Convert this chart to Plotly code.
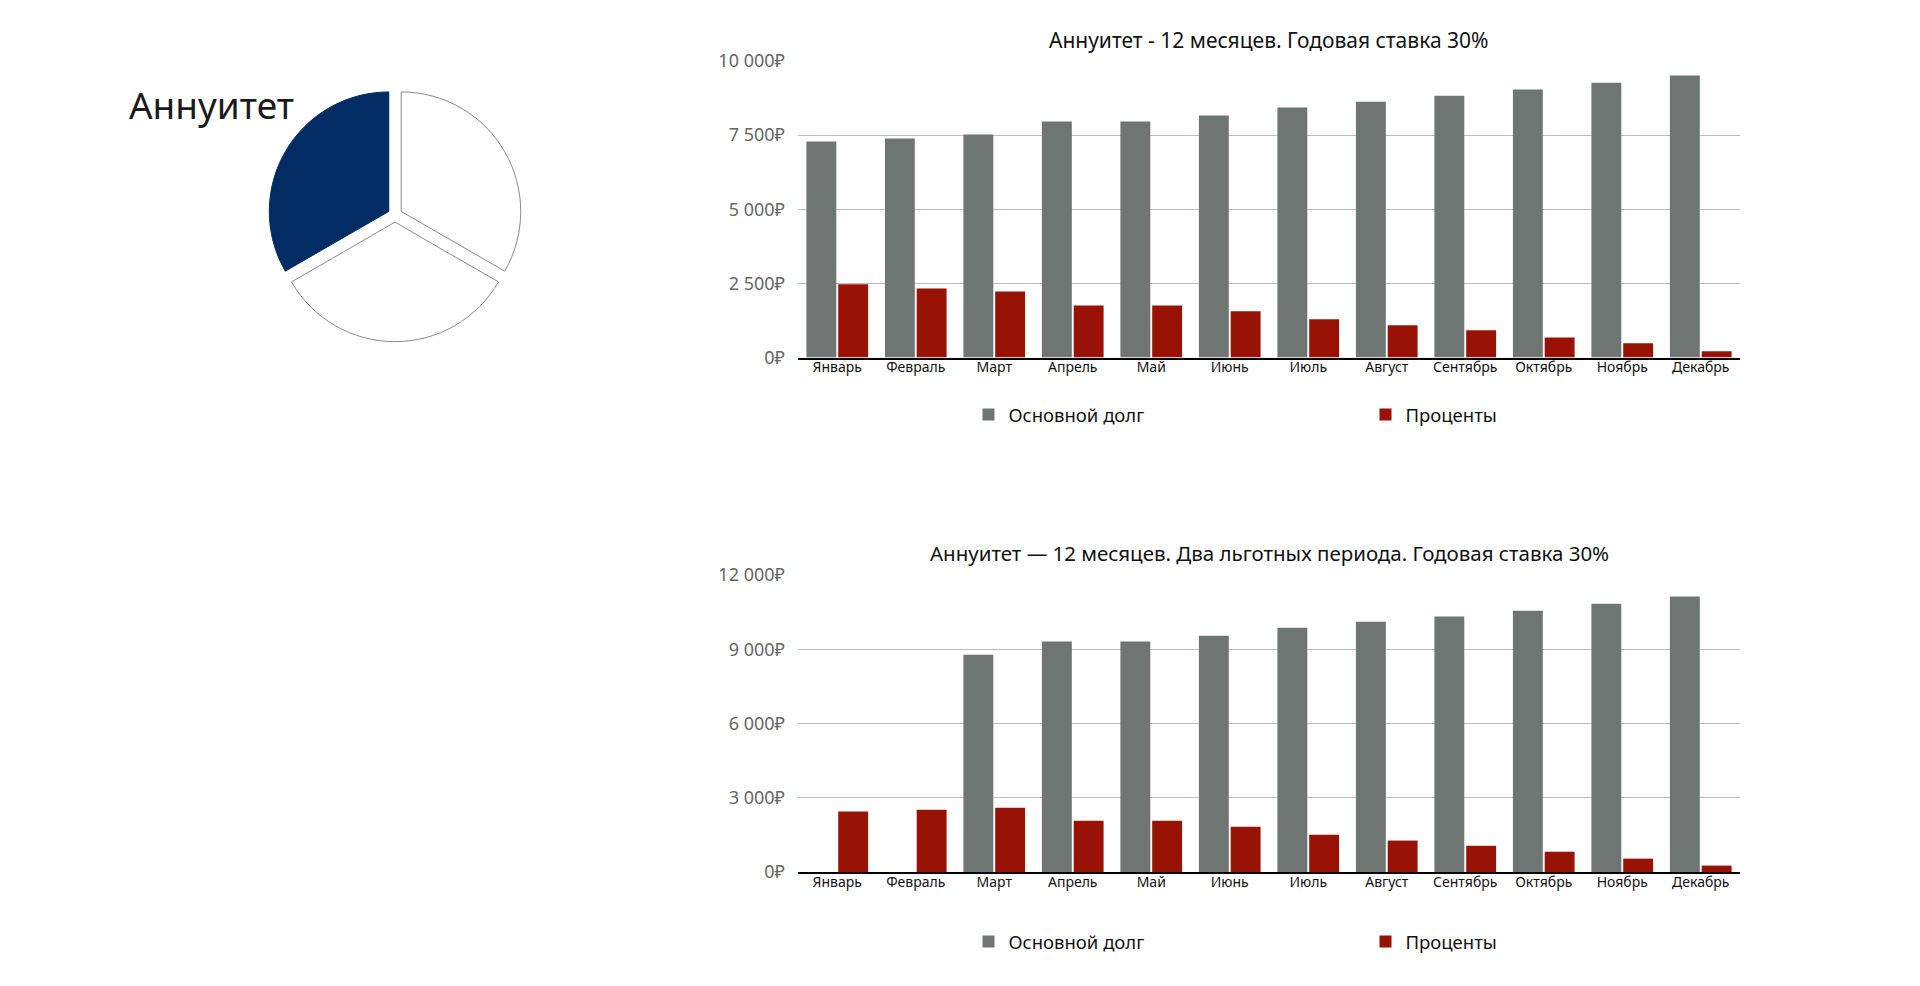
import plotly.graph_objects as go

W, H = 1920, 986

months = ["Январь", "Февраль", "Март", "Апрель", "Май", "Июнь", "Июль",
          "Август", "Сентябрь", "Октябрь", "Ноябрь", "Декабрь"]

# Chart 1: annuity 12 months, 30%
principal_1 = [7290, 7390, 7520, 7960, 7960, 8160, 8430, 8630, 8830, 9040, 9270, 9510]
interest_1 = [2470, 2330, 2230, 1760, 1760, 1560, 1290, 1090, 920, 680, 480, 210]

# Chart 2: annuity 12 months, two grace periods, 30%
principal_2 = [None, None, 8780, 9310, 9310, 9550, 9870, 10110, 10320, 10560, 10840, 11130]
interest_2 = [2440, 2520, 2600, 2070, 2070, 1830, 1510, 1270, 1060, 820, 540, 260]

y1_ticks = [0, 2500, 5000, 7500, 10000]
y1_text = ["0₽", "2 500₽", "5 000₽", "7 500₽", "10 000₽"]
y2_ticks = [0, 3000, 6000, 9000, 12000]
y2_text = ["0₽", "3 000₽", "6 000₽", "9 000₽", "12 000₽"]

pie_labels = ["A", "B", "C"]
pie_values = [1, 1, 1]

title_1 = "Аннуитет - 12 месяцев. Годовая ставка 30%"
title_2 = "Аннуитет — 12 месяцев. Два льготных периода. Годовая ставка 30%"
pie_title = "Аннуитет"
name_principal = "Основной долг"
name_interest = "Проценты"

GRAY = "#6f7572"
RED = "#981306"
NAVY = "#032c64"
FONT = "Noto Sans, DejaVu Sans, sans-serif"

def px_x(v):
    return v / W

def px_y(v):
    return (H - v) / H

fig = go.Figure()

fig.add_trace(go.Bar(x=months, y=principal_1, name=name_principal, marker_color=GRAY,
                     marker_line_width=0, xaxis="x", yaxis="y", legend="legend"))
fig.add_trace(go.Bar(x=months, y=interest_1, name=name_interest, marker_color=RED,
                     marker_line_width=0, xaxis="x", yaxis="y", legend="legend"))
fig.add_trace(go.Bar(x=months, y=principal_2, name=name_principal, marker_color=GRAY,
                     marker_line_width=0, xaxis="x2", yaxis="y2", legend="legend2"))
fig.add_trace(go.Bar(x=months, y=interest_2, name=name_interest, marker_color=RED,
                     marker_line_width=0, xaxis="x2", yaxis="y2", legend="legend2"))

pie_cx, pie_cy, pie_r, pull = 395, 215, 119.5, 0.06
half = pie_r * (1 + pull)
fig.add_trace(go.Pie(labels=pie_labels, values=pie_values, sort=False, direction="clockwise",
                     rotation=0, pull=[pull] * 3, textinfo="none", hoverinfo="skip",
                     showlegend=False, automargin=False,
                     marker=dict(colors=["white", "white", NAVY],
                                 line=dict(color=["#8a8a8a", "#8a8a8a", NAVY], width=1)),
                     domain=dict(x=[px_x(pie_cx - half), px_x(pie_cx + half)],
                                 y=[px_y(pie_cy + half), px_y(pie_cy - half)])))

xdom = [px_x(798), px_x(1740)]
axis_common = dict(showline=True, linecolor="black", linewidth=1.5, ticks="",
                   tickfont=dict(family=FONT, size=14, color="#111"), showgrid=False,
                   zeroline=False, fixedrange=True, automargin=False, ticklabelstandoff=-4)
yaxis_common = dict(showgrid=True, gridcolor="#bdbdbd", gridwidth=1, zeroline=False,
                    showline=False, ticks="", tickfont=dict(family=FONT, size=18, color="#666"),
                    ticklabelstandoff=12, automargin=False, fixedrange=True)

legend_common = dict(orientation="h", xanchor="left", yanchor="middle",
                     font=dict(family=FONT, size=18.5, color="#111"),
                     entrywidth=352, entrywidthmode="pixels", bgcolor="rgba(0,0,0,0)",
                     traceorder="normal")

fig.update_layout(
    width=W, height=H,
    margin=dict(l=0, r=0, t=0, b=0, pad=0, autoexpand=False),
    paper_bgcolor="white", plot_bgcolor="white",
    barmode="group", bargap=0.19, bargroupgap=0.06,
    font=dict(family=FONT),
    xaxis=dict(domain=xdom, anchor="y", **axis_common),
    yaxis=dict(domain=[px_y(357.6), px_y(61)], anchor="x", range=[0, 10000],
               tickvals=y1_ticks, ticktext=y1_text, **yaxis_common),
    xaxis2=dict(domain=xdom, anchor="y2", **axis_common),
    yaxis2=dict(domain=[px_y(872), px_y(575)], anchor="x2", range=[0, 12000],
                tickvals=y2_ticks, ticktext=y2_text, **yaxis_common),
    legend=dict(x=px_x(968.5), y=px_y(415), **legend_common),
    legend2=dict(x=px_x(968.5), y=px_y(942), **legend_common),
    annotations=[
        dict(text=title_1, x=px_x(1269), y=px_y(40), xref="paper", yref="paper",
             xanchor="center", yanchor="middle", showarrow=False,
             font=dict(family=FONT, size=21, color="#111")),
        dict(text=title_2, x=px_x(1269), y=px_y(553), xref="paper", yref="paper",
             xanchor="center", yanchor="middle", showarrow=False,
             font=dict(family=FONT, size=20.5, color="#111")),
        dict(text=pie_title, x=px_x(127), y=px_y(105), xref="paper", yref="paper",
             xanchor="left", yanchor="middle", showarrow=False,
             font=dict(family=FONT, size=37, color="#1a1a1a")),
    ],
)

fig.write_html("out.html")
